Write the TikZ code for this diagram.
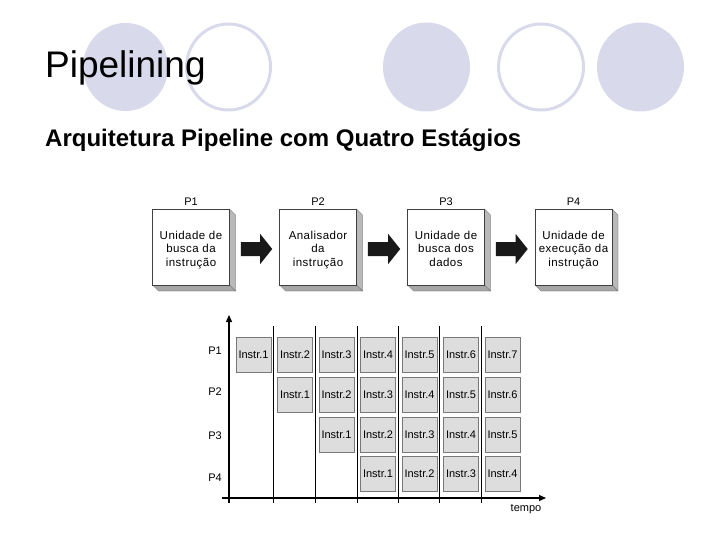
\documentclass[tikz,border=0pt]{standalone}
\usepackage{fontspec}
\setmainfont{Liberation Sans}
\usetikzlibrary{arrows.meta,calc}
\definecolor{lav}{RGB}{217,217,236}
\definecolor{cellfill}{RGB}{221,221,221}
\definecolor{cellline}{RGB}{120,120,120}
\tikzset{
  circfill/.style={fill=lav,draw=none},
  circline/.style={draw=lav,line width=3pt},
  stagebox/.style={draw=black!75,fill=white,minimum width=77pt,minimum height=76pt,inner sep=0pt,align=center,font=\addfontfeature{LetterSpace=4}\fontsize{11.5}{13.5}\selectfont,line width=0.6pt},
  sideface/.style={fill=gray!55,draw=gray!70!black,line width=0.3pt},
  bottomface/.style={fill=gray!70,draw=gray!70!black,line width=0.3pt},
  blockarrow/.style={fill=black!90,draw=none},
  cell/.style={draw=cellline,fill=cellfill,minimum width=35pt,minimum height=35pt,inner sep=0pt,line width=0.7pt,font=\fontsize{11}{13}\selectfont},
  lbl/.style={font=\fontsize{11}{13}\selectfont,inner sep=0pt},
  axis/.style={line width=1.3pt,-{Triangle[length=7pt,width=6pt]}},
  grid line/.style={line width=0.8pt,black},
}
\begin{document}
\begin{tikzpicture}[x=1pt,y=-1pt]
\useasboundingbox (0,0) rectangle (720,540);
% decorative circles
\fill[circfill] (125.5,67) ellipse [x radius=42.5,y radius=44];
\draw[circline] (228.5,67) ellipse [x radius=42,y radius=43];
\fill[circfill] (426.5,67) ellipse [x radius=43.5,y radius=44.5];
\draw[circline] (541,67) ellipse [x radius=42.5,y radius=43];
\fill[circfill] (640.5,67) ellipse [x radius=43.5,y radius=44.5];
% titles
\node[anchor=base west,inner sep=0pt,font=\fontsize{37}{40}\selectfont] (title) at (45,78) {Pipelining};
\node[anchor=base west,inner sep=0pt,font=\bfseries\fontsize{24}{26}\selectfont] (subtitle) at (45,147) {Arquitetura Pipeline com Quatro Estágios};
% stage boxes
\foreach \i/\x/\t in {1/191/{Unidade de\\busca da\\instrução},2/318/{Analisador\\da\\instrução},3/446/{Unidade de\\busca dos\\dados},4/573.5/{Unidade de\\execução da\\instrução}}{
  \fill[sideface] (\x+38.5,209) -- (\x+44.5,215) -- (\x+44.5,291) -- (\x+38.5,285) -- cycle;
  \fill[bottomface] (\x-38.5,285) -- (\x+38.5,285) -- (\x+44.5,291) -- (\x-32.5,291) -- cycle;
  \node[stagebox] (b\i) at (\x,247) {};
  \node[stagebox,draw=none,fill=none,minimum height=0pt,minimum width=0pt] (t\i) at (\x,250) {\strut\t\strut};
  \node[lbl] (p\i) at (\x,202) {P\i};
}
% block arrows
\foreach \a/\b in {1/2,2/3,3/4}{
  \coordinate (s\a) at ($(b\a.east)+(11,2)$);
  \coordinate (e\a) at ($(b\b.west)+(-7,2)$);
  \fill[blockarrow] ($(s\a)+(0,-7)$) -- ($(e\a)+(-12,-7)$) -- ($(e\a)+(-12,-15)$) -- (e\a) -- ($(e\a)+(-12,15)$) -- ($(e\a)+(-12,7)$) -- ($(s\a)+(0,7)$) -- cycle;
}
% timing diagram axes
\coordinate (yb) at (229,503);
\coordinate (yt) at (229,315);
\coordinate (xl) at (222,498);
\coordinate (xr) at (546,498);
\draw[axis] (yb) -- (yt);
\draw[axis] (xl) -- (xr);
\foreach \x in {273,315,357,398,439,481}{
  \draw[grid line] (\x,326) -- (\x,503);
}
% cells
\foreach \r/\y/\s in {1/354.5/0,2/394.5/1,3/434.5/2,4/474/3}{
  \foreach \k in {\s,...,6}{
    \pgfmathtruncatemacro{\n}{\k-\s+1}
    \node[cell] (c\r-\k) at (253.5+41.5*\k,\y) {Instr.\n};
  }
}
% row labels
\node[lbl] (r1) at (215,351) {P1};
\node[lbl] (r2) at (215,392) {P2};
\node[lbl] (r3) at (215,436) {P3};
\node[lbl] (r4) at (215,478) {P4};
\node[lbl] (tempo) at (526,509) {tempo};
\end{tikzpicture}
\end{document}
